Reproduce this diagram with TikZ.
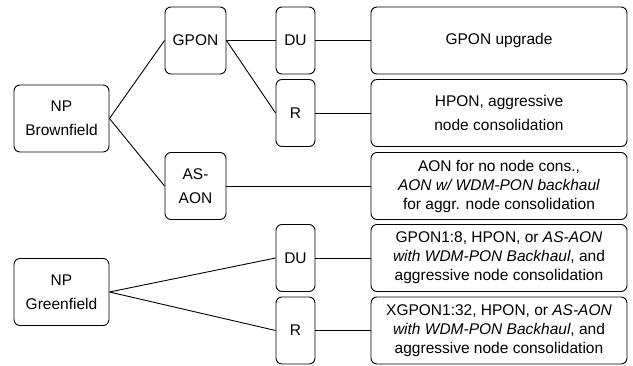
\documentclass[tikz,border=0pt]{standalone}
\usepackage{fontspec}
\setmainfont{Liberation Sans}
\usetikzlibrary{calc}

\begin{document}
\begin{tikzpicture}[x=1pt,y=-1pt,
    box/.style={
      draw,
      line width=0.9pt,
      rounded corners=6pt,
      align=center,
      inner sep=0pt,
      minimum height=67pt,
      font=\fontsize{15.5}{24}\selectfont
    }]
    \tikzset{tall/.style={font=\fontsize{15.5}{19}\selectfont}}
    \useasboundingbox (0,0) rectangle (633,366);

    % brownfield tree
    \node[box,minimum width=95pt] at (61.5,118.5) (bf) {NP\\Brownfield};
    \node[box,minimum width=61pt] at (195.5,40.5) (gpon) {GPON};
    \node[box,minimum width=61pt] at (195.5,186) (asaon) {AS-\\AON};
    \node[box,minimum width=39pt] at (295.5,40.5) (du1) {DU};
    \node[box,minimum width=39pt] at (295.5,113) (r1) {R};
    \node[box,minimum width=256pt] at (499,40.5) (up) {GPON upgrade};
    \node[box,minimum width=256pt] at (499,113) (hpon) {HPON, aggressive\\node consolidation};
    \node[box,tall,minimum width=256pt] at (499,186) (aon) {AON for no node cons.,\\\textit{AON w/ WDM-PON backhaul}\\for aggr. node consolidation};

    % greenfield tree
    \node[box,minimum width=95pt] at (61.5,292) (gf) {NP\\Greenfield};
    \node[box,minimum width=39pt] at (295.5,258) (du2) {DU};
    \node[box,minimum width=39pt] at (295.5,330.5) (r2) {R};
    \node[box,tall,minimum width=256pt] at (499,258) (gpon8) {GPON1:8, HPON, or \textit{AS-AON}\\\textit{with WDM-PON Backhaul}, and\\aggressive node consolidation};
    \node[box,tall,minimum width=256pt] at (499,330.5) (xgpon) {XGPON1:32, HPON, or \textit{AS-AON}\\\textit{with WDM-PON Backhaul}, and\\aggressive node consolidation};

    \path[draw,line width=0.9pt]
        (bf.east) edge (gpon.west)
        (bf.east) edge (asaon.west)
        (gpon.east) edge (du1.west)
        (gpon.east) edge (r1.west)
        (du1.east) edge (up.west)
        (r1.east) edge (hpon.west)
        (asaon.east) edge (aon.west)
        (gf.east) edge (du2.west)
        (gf.east) edge (r2.west)
        (du2.east) edge (gpon8.west)
        (r2.east) edge (xgpon.west)
        ;
\end{tikzpicture}
\end{document}
